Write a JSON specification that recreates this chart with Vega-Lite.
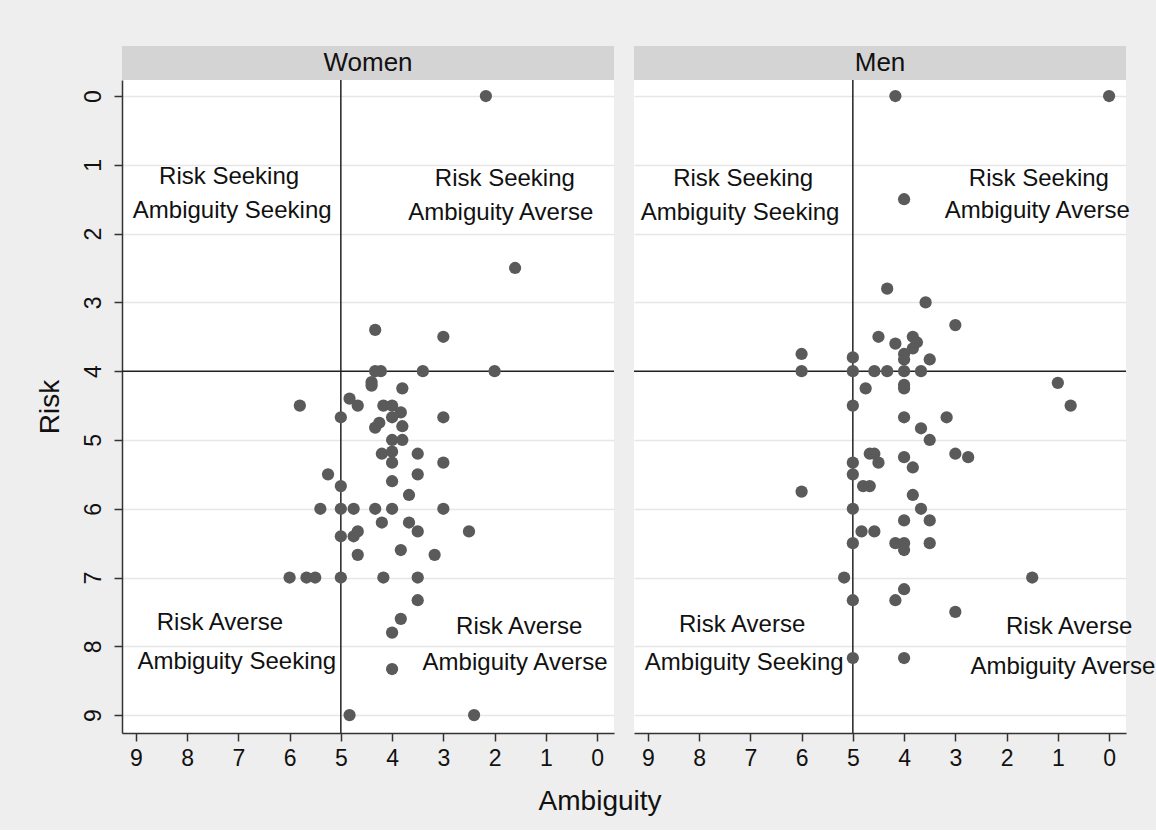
{
  "$schema": "https://vega.github.io/schema/vega-lite/v6.json",
  "background": "#eeeeee",
  "padding": {"left": 36, "top": 46, "right": 30, "bottom": 14},
  "config": {
    "view": {"stroke": null},
    "font": "Liberation Sans",
    "axis": {
      "labelFont": "Liberation Sans",
      "titleFont": "Liberation Sans",
      "labelColor": "#111111",
      "titleColor": "#111111",
      "domainColor": "#333333",
      "tickColor": "#333333",
      "domainWidth": 1.5,
      "tickWidth": 1.5,
      "tickSize": 8,
      "labelFontSize": 23,
      "titleFontSize": 28,
      "titleFontWeight": "normal",
      "gridColor": "#e6e6e6",
      "gridWidth": 1.5,
      "format": "d"
    }
  },
  "title": {
    "text": "Ambiguity",
    "orient": "bottom",
    "anchor": "middle",
    "fontSize": 28,
    "fontWeight": "normal",
    "font": "Liberation Sans",
    "color": "#111111",
    "offset": 18,
    "dx": 4
  },
  "datasets": {
    "heads": [{"group": "Women"}, {"group": "Men"}],
    "vref": [{"v": 5}],
    "href": [{"v": 4}],
    "notes": [
      {"group": "Women", "amb": 7.18, "risk": 1.18, "label": "Risk Seeking"},
      {"group": "Women", "amb": 7.12, "risk": 1.67, "label": "Ambiguity Seeking"},
      {"group": "Women", "amb": 1.8, "risk": 1.2, "label": "Risk Seeking"},
      {"group": "Women", "amb": 1.88, "risk": 1.7, "label": "Ambiguity Averse"},
      {"group": "Women", "amb": 7.36, "risk": 7.66, "label": "Risk Averse"},
      {"group": "Women", "amb": 7.03, "risk": 8.23, "label": "Ambiguity Seeking"},
      {"group": "Women", "amb": 1.52, "risk": 7.72, "label": "Risk Averse"},
      {"group": "Women", "amb": 1.6, "risk": 8.24, "label": "Ambiguity Averse"},
      {"group": "Men", "amb": 7.14, "risk": 1.2, "label": "Risk Seeking"},
      {"group": "Men", "amb": 7.2, "risk": 1.7, "label": "Ambiguity Seeking"},
      {"group": "Men", "amb": 1.37, "risk": 1.2, "label": "Risk Seeking"},
      {"group": "Men", "amb": 1.4, "risk": 1.67, "label": "Ambiguity Averse"},
      {"group": "Men", "amb": 7.16, "risk": 7.69, "label": "Risk Averse"},
      {"group": "Men", "amb": 7.12, "risk": 8.24, "label": "Ambiguity Seeking"},
      {"group": "Men", "amb": 0.78, "risk": 7.72, "label": "Risk Averse"},
      {"group": "Men", "amb": 0.9, "risk": 8.3, "label": "Ambiguity Averse"}
    ],
    "pts": [
      {"group": "Women", "amb": 2.17, "risk": 0},
      {"group": "Women", "amb": 1.6, "risk": 2.5},
      {"group": "Women", "amb": 3.0, "risk": 3.5},
      {"group": "Women", "amb": 4.33, "risk": 3.4},
      {"group": "Women", "amb": 4.33, "risk": 4},
      {"group": "Women", "amb": 4.22, "risk": 4},
      {"group": "Women", "amb": 3.4, "risk": 4},
      {"group": "Women", "amb": 2.0, "risk": 4},
      {"group": "Women", "amb": 4.4, "risk": 4.16},
      {"group": "Women", "amb": 4.4, "risk": 4.21},
      {"group": "Women", "amb": 3.8, "risk": 4.25},
      {"group": "Women", "amb": 5.8, "risk": 4.5},
      {"group": "Women", "amb": 4.83, "risk": 4.4},
      {"group": "Women", "amb": 4.67, "risk": 4.5},
      {"group": "Women", "amb": 4.17, "risk": 4.5},
      {"group": "Women", "amb": 4.0, "risk": 4.5},
      {"group": "Women", "amb": 3.83, "risk": 4.6},
      {"group": "Women", "amb": 4.0, "risk": 4.67},
      {"group": "Women", "amb": 5.0, "risk": 4.67},
      {"group": "Women", "amb": 3.0, "risk": 4.67},
      {"group": "Women", "amb": 4.25, "risk": 4.75},
      {"group": "Women", "amb": 4.33, "risk": 4.82},
      {"group": "Women", "amb": 3.8, "risk": 4.8},
      {"group": "Women", "amb": 4.0, "risk": 5.0},
      {"group": "Women", "amb": 3.8, "risk": 5.0},
      {"group": "Women", "amb": 4.2, "risk": 5.2},
      {"group": "Women", "amb": 4.0, "risk": 5.17},
      {"group": "Women", "amb": 3.5, "risk": 5.2},
      {"group": "Women", "amb": 4.0, "risk": 5.33},
      {"group": "Women", "amb": 3.0, "risk": 5.33},
      {"group": "Women", "amb": 5.25, "risk": 5.5},
      {"group": "Women", "amb": 3.5, "risk": 5.5},
      {"group": "Women", "amb": 5.0, "risk": 5.67},
      {"group": "Women", "amb": 4.0, "risk": 5.6},
      {"group": "Women", "amb": 3.67, "risk": 5.8},
      {"group": "Women", "amb": 5.4, "risk": 6},
      {"group": "Women", "amb": 5.0, "risk": 6},
      {"group": "Women", "amb": 4.75, "risk": 6},
      {"group": "Women", "amb": 4.33, "risk": 6},
      {"group": "Women", "amb": 4.0, "risk": 6},
      {"group": "Women", "amb": 3.0, "risk": 6},
      {"group": "Women", "amb": 4.2, "risk": 6.2},
      {"group": "Women", "amb": 3.67, "risk": 6.2},
      {"group": "Women", "amb": 3.5, "risk": 6.33},
      {"group": "Women", "amb": 2.5, "risk": 6.33},
      {"group": "Women", "amb": 4.67, "risk": 6.33},
      {"group": "Women", "amb": 4.75, "risk": 6.4},
      {"group": "Women", "amb": 5.0, "risk": 6.4},
      {"group": "Women", "amb": 4.67, "risk": 6.67},
      {"group": "Women", "amb": 3.83, "risk": 6.6},
      {"group": "Women", "amb": 3.17, "risk": 6.67},
      {"group": "Women", "amb": 6.0, "risk": 7},
      {"group": "Women", "amb": 5.67, "risk": 7},
      {"group": "Women", "amb": 5.5, "risk": 7},
      {"group": "Women", "amb": 5.0, "risk": 7},
      {"group": "Women", "amb": 4.17, "risk": 7},
      {"group": "Women", "amb": 3.5, "risk": 7},
      {"group": "Women", "amb": 3.5, "risk": 7.33},
      {"group": "Women", "amb": 3.83, "risk": 7.6},
      {"group": "Women", "amb": 4.0, "risk": 7.8},
      {"group": "Women", "amb": 4.0, "risk": 8.33},
      {"group": "Women", "amb": 4.83, "risk": 9},
      {"group": "Women", "amb": 2.4, "risk": 9},
      {"group": "Men", "amb": 4.17, "risk": 0},
      {"group": "Men", "amb": 0.0, "risk": 0},
      {"group": "Men", "amb": 4.0, "risk": 1.5},
      {"group": "Men", "amb": 4.33, "risk": 2.8},
      {"group": "Men", "amb": 3.58, "risk": 3.0},
      {"group": "Men", "amb": 3.0, "risk": 3.33},
      {"group": "Men", "amb": 4.5, "risk": 3.5},
      {"group": "Men", "amb": 3.83, "risk": 3.5},
      {"group": "Men", "amb": 4.17, "risk": 3.6},
      {"group": "Men", "amb": 3.75, "risk": 3.58},
      {"group": "Men", "amb": 3.83, "risk": 3.67},
      {"group": "Men", "amb": 4.0, "risk": 3.75},
      {"group": "Men", "amb": 4.0, "risk": 3.83},
      {"group": "Men", "amb": 6.0, "risk": 3.75},
      {"group": "Men", "amb": 5.0, "risk": 3.8},
      {"group": "Men", "amb": 3.5, "risk": 3.83},
      {"group": "Men", "amb": 6.0, "risk": 4},
      {"group": "Men", "amb": 5.0, "risk": 4},
      {"group": "Men", "amb": 4.58, "risk": 4},
      {"group": "Men", "amb": 4.33, "risk": 4},
      {"group": "Men", "amb": 4.0, "risk": 4},
      {"group": "Men", "amb": 3.67, "risk": 4},
      {"group": "Men", "amb": 4.75, "risk": 4.25},
      {"group": "Men", "amb": 4.0, "risk": 4.2},
      {"group": "Men", "amb": 4.0, "risk": 4.25},
      {"group": "Men", "amb": 1.0, "risk": 4.17},
      {"group": "Men", "amb": 0.75, "risk": 4.5},
      {"group": "Men", "amb": 5.0, "risk": 4.5},
      {"group": "Men", "amb": 4.0, "risk": 4.67},
      {"group": "Men", "amb": 3.17, "risk": 4.67},
      {"group": "Men", "amb": 3.67, "risk": 4.83},
      {"group": "Men", "amb": 3.5, "risk": 5.0},
      {"group": "Men", "amb": 4.67, "risk": 5.2},
      {"group": "Men", "amb": 4.58, "risk": 5.2},
      {"group": "Men", "amb": 4.0, "risk": 5.25},
      {"group": "Men", "amb": 3.0, "risk": 5.2},
      {"group": "Men", "amb": 2.75, "risk": 5.25},
      {"group": "Men", "amb": 4.5, "risk": 5.33},
      {"group": "Men", "amb": 5.0, "risk": 5.33},
      {"group": "Men", "amb": 3.83, "risk": 5.4},
      {"group": "Men", "amb": 5.0, "risk": 5.5},
      {"group": "Men", "amb": 4.8, "risk": 5.67},
      {"group": "Men", "amb": 4.67, "risk": 5.67},
      {"group": "Men", "amb": 6.0, "risk": 5.75},
      {"group": "Men", "amb": 3.83, "risk": 5.8},
      {"group": "Men", "amb": 5.0, "risk": 6.0},
      {"group": "Men", "amb": 3.67, "risk": 6.0},
      {"group": "Men", "amb": 4.0, "risk": 6.17},
      {"group": "Men", "amb": 3.5, "risk": 6.17},
      {"group": "Men", "amb": 4.83, "risk": 6.33},
      {"group": "Men", "amb": 4.58, "risk": 6.33},
      {"group": "Men", "amb": 5.0, "risk": 6.5},
      {"group": "Men", "amb": 4.17, "risk": 6.5},
      {"group": "Men", "amb": 4.0, "risk": 6.5},
      {"group": "Men", "amb": 4.0, "risk": 6.6},
      {"group": "Men", "amb": 3.5, "risk": 6.5},
      {"group": "Men", "amb": 5.17, "risk": 7.0},
      {"group": "Men", "amb": 1.5, "risk": 7.0},
      {"group": "Men", "amb": 4.0, "risk": 7.17},
      {"group": "Men", "amb": 4.17, "risk": 7.33},
      {"group": "Men", "amb": 5.0, "risk": 7.33},
      {"group": "Men", "amb": 3.0, "risk": 7.5},
      {"group": "Men", "amb": 5.0, "risk": 8.17},
      {"group": "Men", "amb": 4.0, "risk": 8.17}
    ]
  },
  "spacing": 18,
  "hconcat": [
    {
      "spacing": 0,
      "bounds": "flush",
      "vconcat": [
        {
          "width": 492,
          "height": 34,
          "data": {"name": "heads"},
          "transform": [{"filter": "datum.group === 'Women'"}],
          "view": {"fill": "#d4d4d4", "stroke": null},
          "mark": {"type": "text", "fontSize": 26, "font": "Liberation Sans", "color": "#111111"},
          "encoding": {"text": {"field": "group", "type": "nominal"}}
        },
        {
          "width": 492,
          "height": 653,
          "view": {"fill": "#ffffff", "stroke": null},
          "layer": [
            {
              "data": {"name": "vref"},
              "mark": {"type": "rule", "color": "#222222", "strokeWidth": 1.5},
              "encoding": {
                "x": {"field": "v", "type": "quantitative", "scale": {"domain": [-0.33, 9.27], "reverse": true, "nice": false, "zero": false},
                  "axis": {"values": [0,1,2,3,4,5,6,7,8,9], "grid": false, "title": null, "labelPadding": 6}}
              }
            },
            {
              "data": {"name": "href"},
              "mark": {"type": "rule", "color": "#222222", "strokeWidth": 1.5},
              "encoding": {
                "y": {"field": "v", "type": "quantitative", "scale": {"domain": [-0.233, 9.26], "reverse": true, "nice": false, "zero": false},
                  "axis": {"values": [0,1,2,3,4,5,6,7,8,9], "grid": true, "title": "Risk", "labelAngle": -90, "labelPadding": 9, "titlePadding": 18}}
              }
            },
            {
              "data": {"name": "pts"},
              "transform": [{"filter": "datum.group === 'Women'"}],
              "mark": {"type": "circle", "size": 150, "color": "#5a5a5a", "opacity": 1},
              "encoding": {
                "x": {"field": "amb", "type": "quantitative"},
                "y": {"field": "risk", "type": "quantitative"}
              }
            },
            {
              "data": {"name": "notes"},
              "transform": [{"filter": "datum.group === 'Women'"}],
              "mark": {"type": "text", "fontSize": 24, "font": "Liberation Sans", "color": "#111111", "align": "center", "baseline": "middle"},
              "encoding": {
                "x": {"field": "amb", "type": "quantitative"},
                "y": {"field": "risk", "type": "quantitative"},
                "text": {"field": "label", "type": "nominal"}
              }
            }
          ]
        }
      ]
    },
    {
      "spacing": 0,
      "bounds": "flush",
      "vconcat": [
        {
          "width": 492,
          "height": 34,
          "data": {"name": "heads"},
          "transform": [{"filter": "datum.group === 'Men'"}],
          "view": {"fill": "#d4d4d4", "stroke": null},
          "mark": {"type": "text", "fontSize": 26, "font": "Liberation Sans", "color": "#111111"},
          "encoding": {"text": {"field": "group", "type": "nominal"}}
        },
        {
          "width": 492,
          "height": 653,
          "view": {"fill": "#ffffff", "stroke": null},
          "layer": [
            {
              "data": {"name": "vref"},
              "mark": {"type": "rule", "color": "#222222", "strokeWidth": 1.5},
              "encoding": {
                "x": {"field": "v", "type": "quantitative", "scale": {"domain": [-0.33, 9.27], "reverse": true, "nice": false, "zero": false},
                  "axis": {"values": [0,1,2,3,4,5,6,7,8,9], "grid": false, "title": null, "labelPadding": 6}}
              }
            },
            {
              "data": {"name": "href"},
              "mark": {"type": "rule", "color": "#222222", "strokeWidth": 1.5},
              "encoding": {
                "y": {"field": "v", "type": "quantitative", "scale": {"domain": [-0.233, 9.26], "reverse": true, "nice": false, "zero": false},
                  "axis": {"values": [0,1,2,3,4,5,6,7,8,9], "grid": true, "title": null, "labels": false, "ticks": false, "domain": false}}
              }
            },
            {
              "data": {"name": "pts"},
              "transform": [{"filter": "datum.group === 'Men'"}],
              "mark": {"type": "circle", "size": 150, "color": "#5a5a5a", "opacity": 1},
              "encoding": {
                "x": {"field": "amb", "type": "quantitative"},
                "y": {"field": "risk", "type": "quantitative"}
              }
            },
            {
              "data": {"name": "notes"},
              "transform": [{"filter": "datum.group === 'Men'"}],
              "mark": {"type": "text", "fontSize": 24, "font": "Liberation Sans", "color": "#111111", "align": "center", "baseline": "middle"},
              "encoding": {
                "x": {"field": "amb", "type": "quantitative"},
                "y": {"field": "risk", "type": "quantitative"},
                "text": {"field": "label", "type": "nominal"}
              }
            }
          ]
        }
      ]
    }
  ]
}
